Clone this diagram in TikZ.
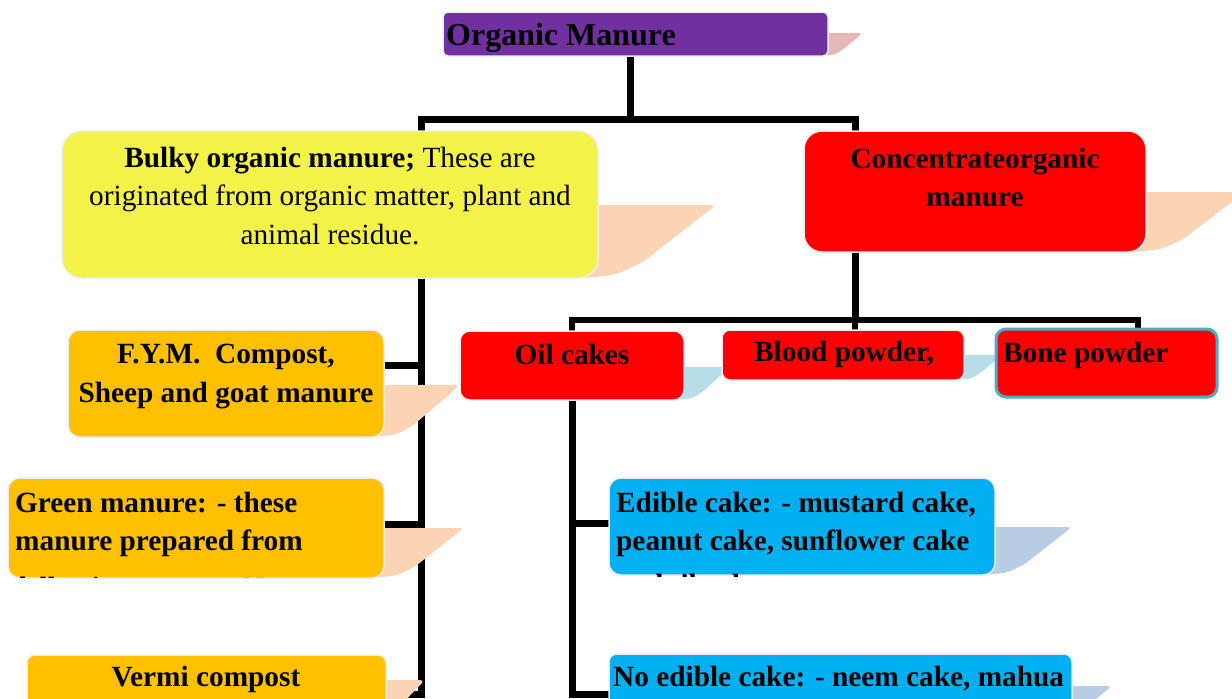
\documentclass[tikz,border=0pt]{standalone}
\usepackage{fontspec}
\setmainfont{Liberation Serif}
\usetikzlibrary{calc}
\definecolor{purp}{HTML}{7030A0}
\definecolor{pinksh}{HTML}{E6B9B8}
\definecolor{yel}{HTML}{F3F248}
\definecolor{peach}{HTML}{FBD4B4}
\definecolor{redb}{HTML}{FF0000}
\definecolor{orng}{HTML}{FFC000}
\definecolor{ltblue}{HTML}{B7DDE8}
\definecolor{blueb}{HTML}{00B0F0}
\definecolor{bgray}{HTML}{B8CCE4}
\definecolor{bonebd}{HTML}{4BACC6}
\definecolor{edge}{HTML}{EDEDED}
\pgfdeclarelayer{bg}\pgfdeclarelayer{sh}\pgfsetlayers{bg,sh,main}
\newcommand\foldsh[5]{%
  \fill[#1, rounded corners=5pt] ({#2-25},#3) -- (#4,#3) -- ({#2+0.38*(#4-#2)},{#5-0.22*(#5-#3)})
    .. controls ({#2+0.15*(#4-#2)},{#5-0.04*(#5-#3)}) .. ({#2-15},#5) -- ({#2-25},#5) -- cycle;}
\begin{document}
\begin{tikzpicture}[x=1pt,y=-1pt,
  box/.style={draw=edge, line width=1.5pt, inner sep=0pt, outer sep=0pt, anchor=north west},
  txt/.style={font=\fontsize{29.3}{38.5}\selectfont, inner sep=0pt, align=center},
  btxt/.style={txt, font=\fontsize{29.3}{38.5}\selectfont\bfseries},
  conn/.style={line width=7pt, black},
  conn2/.style={line width=6pt, black}]
\useasboundingbox (0,0) rectangle (1232,699);
\clip (0,0) rectangle (1232,699);
% boxes
\node[box, fill=purp, rounded corners=5pt, minimum width=385pt, minimum height=44pt] (om) at (443,12) {};
\node[box, fill=yel, rounded corners=20pt, minimum width=536pt, minimum height=147pt] (bulky) at (62,131) {};
\node[box, fill=redb, rounded corners=18pt, minimum width=342pt, minimum height=121pt] (conc) at (804,131) {};
\node[box, fill=orng, rounded corners=12pt, minimum width=316pt, minimum height=107pt] (fym) at (68,330) {};
\node[box, fill=orng, rounded corners=12pt, minimum width=376pt, minimum height=100pt] (green) at (8,478) {};
\node[box, fill=orng, rounded corners=8pt, minimum width=359pt, minimum height=60pt] (vermi) at (27,655) {};
\node[box, fill=redb, rounded corners=10pt, minimum width=224pt, minimum height=69pt] (oil) at (460,331) {};
\node[box, fill=redb, rounded corners=8pt, minimum width=242pt, minimum height=50pt] (blood) at (722,330) {};
\node[box, fill=redb, draw=bonebd, line width=3pt, rounded corners=10pt, minimum width=221pt, minimum height=68pt] (bone) at (996,329) {};
\node[box, fill=blueb, rounded corners=12pt, minimum width=386pt, minimum height=97pt] (edible) at (609,478) {};
\node[box, fill=blueb, rounded corners=8pt, minimum width=463pt, minimum height=60pt] (noedible) at (609,654) {};
% shadows
\begin{pgfonlayer}{sh}
\foldsh{pinksh}{828}{33}{863}{56}
\foldsh{peach}{598}{205}{716}{278}
\foldsh{peach}{1146}{192}{1245}{252}
\foldsh{peach}{384}{385}{460}{437}
\foldsh{peach}{384}{528}{464}{578}
\foldsh{peach}{386}{680}{425}{712}
\foldsh{ltblue}{684}{367}{730}{400}
\foldsh{ltblue}{964}{355}{1002}{380}
\foldsh{bgray}{995}{527}{1072}{575}
\foldsh{bgray}{1072}{686}{1112}{712}
\end{pgfonlayer}
% connectors
\coordinate (jt) at (630,119);
\coordinate (jl) at (421,119);
\coordinate (jr) at (855,119);
\coordinate (vb) at (421,694);
\coordinate (jf) at (421,365);
\coordinate (jg) at (421,524);
\coordinate (jc) at (855,320);
\coordinate (jo) at (572,320);
\coordinate (jb) at (1138,320);
\coordinate (ob) at (572,694);
\coordinate (je) at (572,523);
\begin{pgfonlayer}{bg}
\draw[conn] (jt |- om.south) -- (jt);
\draw[conn] (vermi.east |- vb) -- (vb) -- (jl) -- (jr) -- (conc.north -| jr);
\draw[conn] (fym.east |- jf) -- (jf);
\draw[conn] (green.east |- jg) -- (jg);
\draw[conn] (conc.south -| jc) -- (jc);
\draw[conn2] (oil.north -| jo) -- (jo) -- (jb) -- (bone.north -| jb);
\draw[conn2] (jc) -- (blood.north -| jc);
\draw[conn] (oil.south -| ob) -- (ob) -- (noedible.west |- ob);
\draw[conn] (je) -- (edible.west |- je);
\end{pgfonlayer}
% texts (base anchor = baseline of the last line)
\node[txt, anchor=base west, font=\fontsize{32}{38}\selectfont\bfseries] (om-t) at (446,45) {Organic Manure};
\node[txt, anchor=base] (bulky-t) at (330,244) {\textbf{Bulky organic manure;} These are\\originated from organic matter, plant and\\animal residue.};
\node[btxt, anchor=base] (conc-t) at (975,206.5) {Concentrateorganic\\manure};
\node[btxt, anchor=base] (fym-t) at (226,402) {F.Y.M.\ \ Compost,\\Sheep and goat manure};
\begin{scope}
\clip[rounded corners=12pt] (8,478) rectangle (384,577);
\node[btxt, anchor=base west, align=left] (green-t) at (15,597) {Green manure: - these\\manure prepared from\\[8pt]following crops: - Neem};
\end{scope}
\node[btxt, anchor=base] (vermi-t) at (206,686) {Vermi compost};
\node[btxt, anchor=base] (oil-t) at (572,364) {Oil cakes};
\node[btxt, anchor=base] (blood-t) at (844,361) {Blood powder,};
\node[btxt, anchor=base west] (bone-t) at (1003,362) {Bone powder};
\begin{scope}
\clip[rounded corners=12pt] (609,478) rectangle (995,576);
\node[btxt, anchor=base west, align=left] (edible-t) at (616,594) {Edible cake: - mustard cake,\\peanut cake, sunflower cake\\[5pt]and til cake};
\end{scope}
\node[btxt, anchor=base west] (noedible-t) at (613,686) {No edible cake: - neem cake, mahua};
\end{tikzpicture}
\end{document}
